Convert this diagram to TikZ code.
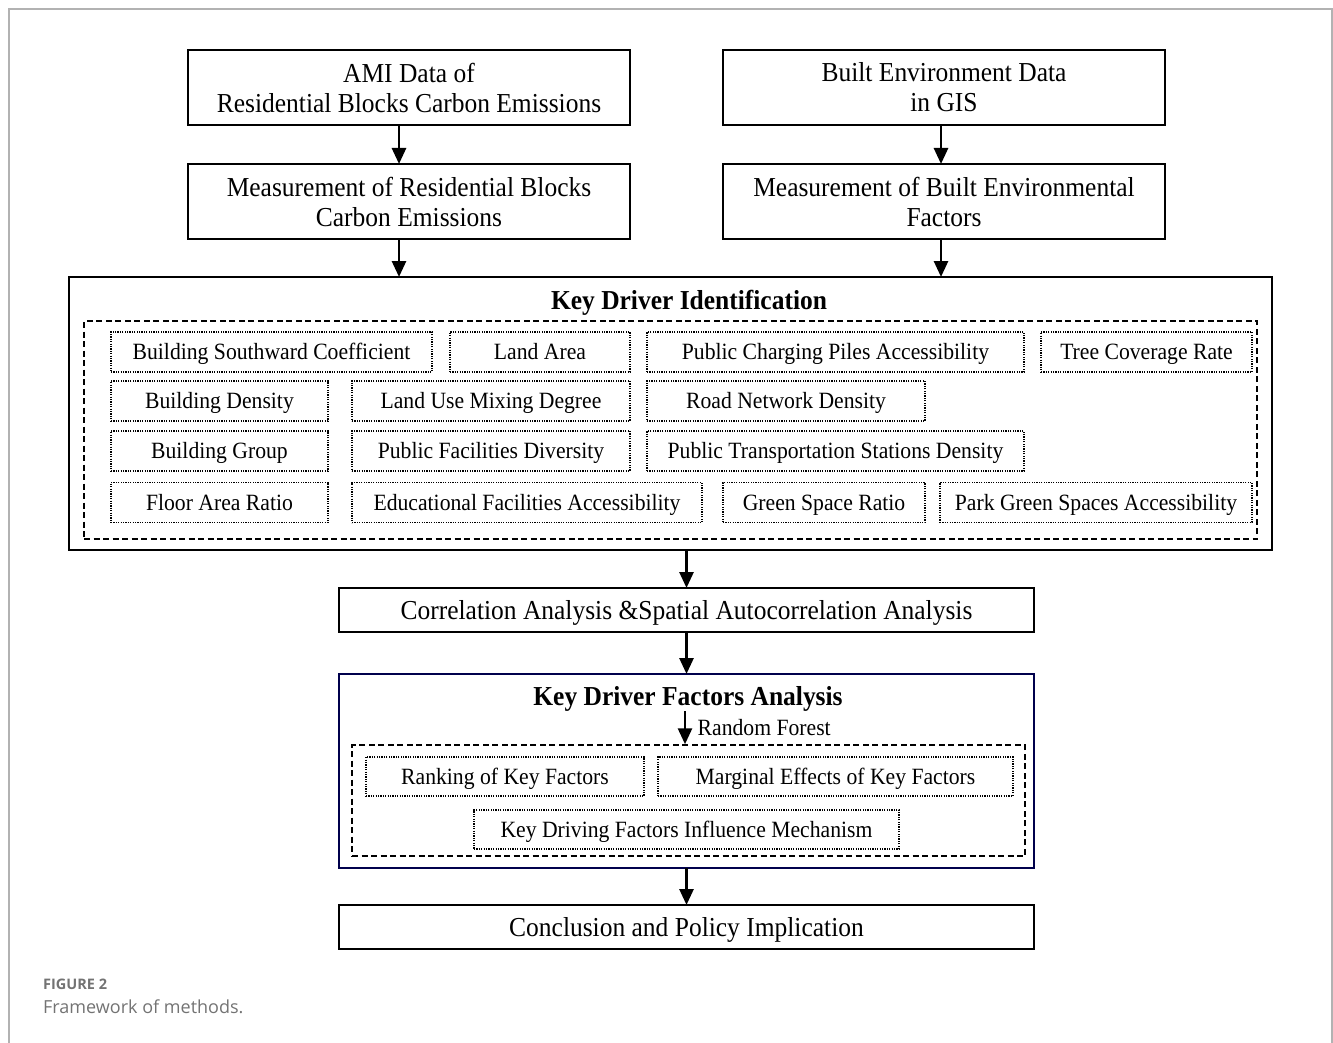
\documentclass[tikz,border=0pt]{standalone}
\usepackage{fontspec}
\setmainfont{Liberation Serif}[FakeStretch=0.93]
\newfontfamily\capfont{Open Sans}
\usetikzlibrary{arrows.meta, positioning}

\begin{document}
\begin{tikzpicture}[
    x=1pt, y=-1pt,
    stage/.style={draw, line width=2.7pt, align=center, inner sep=0pt, outer sep=0pt,
        font=\fontsize{27.4}{30}\selectfont},
    oneline/.style={text height=21pt, text depth=3pt},
    group/.style={draw, line width=2.7pt, inner sep=0pt, outer sep=0pt},
    inner/.style={draw, line width=1.5pt, dash pattern=on 6pt off 3.5pt, inner sep=0pt},
    factor/.style={draw, line width=1.2pt, dash pattern=on 1.2pt off 1.2pt, inner sep=0pt,
        minimum height=40pt, text height=18pt, text depth=3pt,
        font=\fontsize{23.3}{26}\selectfont},
    headline/.style={font=\fontsize{27.4}{30}\selectfont\bfseries},
    arr/.style={-{Triangle[length=16pt,width=14pt]}, line width=2.7pt}
]
    \useasboundingbox (0,0) rectangle (1333,1043);
    \draw[black!30, line width=1.5pt] (9,1043) -- (9,9) -- (1332,9) -- (1332,1043);

    % data sources
    \node[stage, minimum width=442pt, minimum height=75pt] (ami) at (409,87.5)
        {AMI Data of\\Residential Blocks Carbon Emissions};
    \node[stage, minimum width=442pt, minimum height=75pt] (gis) at (944,87.5)
        {Built Environment Data\\in GIS};
    \node[stage, minimum width=442pt, minimum height=75pt] (emis) at (409,201.5)
        {Measurement of Residential Blocks\\Carbon Emissions};
    \node[stage, minimum width=442pt, minimum height=75pt] (envf) at (944,201.5)
        {Measurement of Built Environmental\\Factors};

    % key driver identification
    \node[group, minimum width=1203pt, minimum height=273pt] (kdi) at (670.5,413.5) {};
    \node[headline] (kditl) at (689,303) {Key Driver Identification};
    \node[inner, minimum width=1173pt, minimum height=218pt] (fset) at (670.5,430) {};

    \node[factor, minimum width=321pt] (bsc)  at (271.5,352) {Building Southward Coefficient};
    \node[factor, minimum width=180pt] (la)   at (540,352)   {Land Area};
    \node[factor, minimum width=377pt] (pcpa) at (835.5,352) {Public Charging Piles Accessibility};
    \node[factor, minimum width=211pt] (tcr)  at (1146.5,352) {Tree Coverage Rate};

    \node[factor, minimum width=217pt] (bd)   at (219.5,401) {Building Density};
    \node[factor, minimum width=278pt] (lumd) at (491,401)   {Land Use Mixing Degree};
    \node[factor, minimum width=278pt] (rnd)  at (786,401)   {Road Network Density};

    \node[factor, minimum width=217pt] (bg)   at (219.5,451) {Building Group};
    \node[factor, minimum width=278pt] (pfd)  at (491,451)   {Public Facilities Diversity};
    \node[factor, minimum width=377pt] (ptsd) at (835.5,451) {Public Transportation Stations Density};

    \node[factor, minimum width=217pt] (far)  at (219.5,502.5) {Floor Area Ratio};
    \node[factor, minimum width=350pt] (efa)  at (527,502.5)   {Educational Facilities Accessibility};
    \node[factor, minimum width=202pt] (gsr)  at (824,502.5)   {Green Space Ratio};
    \node[factor, minimum width=312pt] (pgsa) at (1096,502.5)  {Park Green Spaces Accessibility};

    % analysis
    \node[stage, oneline, minimum width=695pt, minimum height=44pt] (corr) at (686.5,610)
        {Correlation Analysis \&Spatial Autocorrelation Analysis};
    \node[group, draw=blue!30!black, minimum width=695pt, minimum height=194pt] (kdfa) at (686.5,771) {};
    \node[headline] (kdfatl) at (688,699) {Key Driver Factors Analysis};
    \coordinate (rf) at (685,711);
    \node[inner, minimum width=673pt, minimum height=111pt] (rset) at (688.5,800.5) {};
    \node[factor, minimum width=278pt, minimum height=39pt] (rank) at (505,776.5) {Ranking of Key Factors};
    \node[factor, minimum width=355pt, minimum height=39pt] (marg) at (835.5,776.5) {Marginal Effects of Key Factors};
    \node[factor, minimum width=425pt, minimum height=39pt] (mech) at (686.5,829.5) {Key Driving Factors Influence Mechanism};

    \node[stage, oneline, minimum width=695pt, minimum height=44pt] (concl) at (686.5,927)
        {Conclusion and Policy Implication};

    % caption
    \node[anchor=west, inner sep=0pt, text=black!55, font=\capfont\fontsize{14.5}{16}\selectfont\bfseries]
        (fig) at (43,984) {FIGURE 2};
    \node[anchor=west, inner sep=0pt, text=black!55, font=\capfont\fontsize{18}{20}\selectfont]
        (cap) at (43,1007) {Framework of methods.};

    % arrows
    \draw[arr] ([xshift=-10pt]ami.south) -- ([xshift=-10pt]emis.north);
    \draw[arr] ([xshift=-3pt]gis.south) -- ([xshift=-3pt]envf.north);
    \draw[arr] ([xshift=-10pt]emis.south) -- ([xshift=-10pt]emis.south |- kdi.north);
    \draw[arr] ([xshift=-3pt]envf.south) -- ([xshift=-3pt]envf.south |- kdi.north);
    \draw[arr] (kdi.south -| corr.north) -- (corr.north);
    \draw[arr] (corr) -- (kdfa);
    \draw[arr] (rf) -- (rf |- rset.north)
        node[midway, right=8pt, font=\fontsize{23.3}{26}\selectfont] {Random Forest};
    \draw[arr] (kdfa) -- (concl);
\end{tikzpicture}
\end{document}
